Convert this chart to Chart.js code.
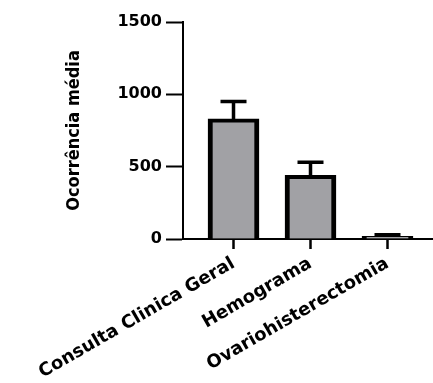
<!DOCTYPE html>
<html>
<head>
<meta charset="utf-8">
<script src="https://cdn.jsdelivr.net/npm/chart.js@4.4.0/dist/chart.umd.min.js"></script>
<style>
  html, body { margin: 0; padding: 0; background: #fff; }
</style>
</head>
<body>
<canvas id="grafico" width="433" height="383"></canvas>
<script>
const categorias = ['Consulta Clinica Geral', 'Hemograma', 'Ovariohisterectomia'];
const posicoes = [1, 2, 3];
const medias = [830, 440, 18];
const erros = [120, 90, 12];
const ticksY = [0, 500, 1000, 1500];

// barras de erro (só o lado de cima, como no Prism)
const barrasErro = {
    id: 'barrasErro',
    afterDatasetsDraw(chart) {
        const ctx = chart.ctx;
        const y = chart.scales.y;
        const meta = chart.getDatasetMeta(0);
        ctx.save();
        ctx.strokeStyle = '#000';
        ctx.lineWidth = 3.5;
        meta.data.forEach((barra, i) => {
            const topo = y.getPixelForValue(medias[i] + erros[i]);
            ctx.beginPath();
            ctx.moveTo(barra.x, barra.y);
            ctx.lineTo(barra.x, topo);
            ctx.moveTo(barra.x - 13, topo);
            ctx.lineTo(barra.x + 13, topo);
            ctx.stroke();
        });
        ctx.restore();
    }
};

const ctx = document.getElementById('grafico').getContext('2d');

new Chart(ctx, {
    type: 'bar',
    data: {
        datasets: [{
            label: 'Ocorrência média',
            data: posicoes.map((p, i) => ({ x: p, y: medias[i] })),
            backgroundColor: '#a1a1a5',
            borderColor: '#000',
            borderWidth: { top: 4, left: 5, right: 5, bottom: 0 },
            barThickness: 51
        }]
    },
    options: {
        responsive: false,
        animation: false,
        layout: { padding: { top: 22, left: 64, right: 1, bottom: 0 } },
        plugins: {
            legend: { display: false },
            tooltip: { enabled: false }
        },
        scales: {
            x: {
                type: 'linear',
                offset: false,
                min: 0.344,
                max: 3.578,
                afterBuildTicks: (s) => { s.ticks = posicoes.map(v => ({ value: v })); },
                afterFit: (s) => { s.height = 144; s.paddingLeft = 0; s.paddingRight = 0; },
                grid: { offset: false, drawOnChartArea: false, tickLength: 10, tickWidth: 2.5, tickColor: '#000' },
                border: { color: '#000', width: 2 },
                ticks: {
                    autoSkip: false,
                    minRotation: 30,
                    maxRotation: 30,
                    padding: 4,
                    color: '#000',
                    font: { family: 'DejaVu Sans', weight: 'bold', size: 18 },
                    callback: (v) => categorias[posicoes.indexOf(v)]
                }
            },
            y: {
                min: 0,
                max: 1500,
                afterBuildTicks: (s) => { s.ticks = ticksY.map(v => ({ value: v })); },
                afterFit: (s) => { s.width = 119; },
                grid: { drawOnChartArea: false, tickLength: 17, tickWidth: 2, tickColor: '#000' },
                border: { color: '#000', width: 2 },
                ticks: {
                    padding: 4,
                    color: '#000',
                    font: { family: 'DejaVu Sans', weight: 'bold', size: 16 },
                    callback: (v) => String(v)
                },
                title: {
                    display: true,
                    text: 'Ocorrência média',
                    color: '#000',
                    padding: 0,
                    font: { family: "'DejaVu Sans Condensed', 'Liberation Sans', sans-serif", weight: 'bold', size: 18 }
                }
            }
        }
    },
    plugins: [barrasErro]
});
</script>
</body>
</html>
